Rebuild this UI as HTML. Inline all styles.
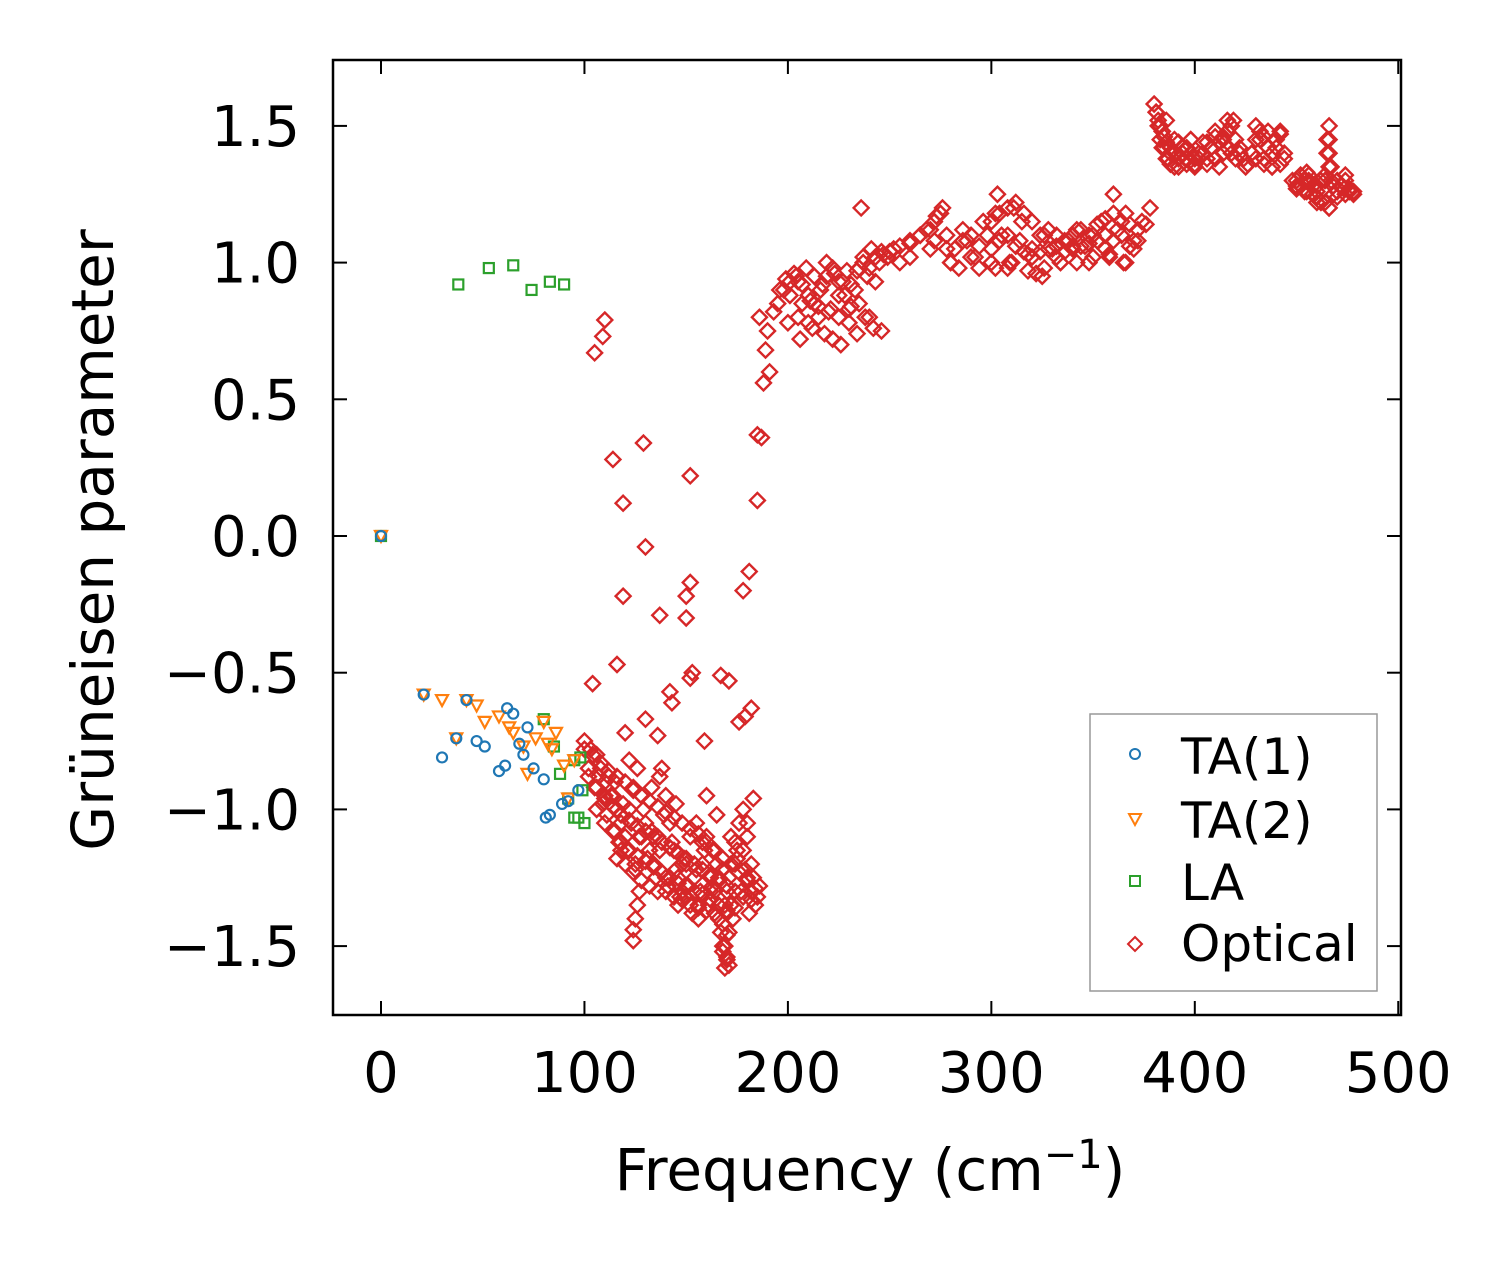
<!DOCTYPE html>
<html><head><meta charset="utf-8"><style>
html,body{margin:0;padding:0;background:#fff;}
svg{display:block;font-family:"DejaVu Sans","Liberation Sans",sans-serif;}
</style></head><body>
<svg id="chart" width="1512" height="1264" viewBox="0 0 1512 1264">
<rect x="0" y="0" width="1512" height="1264" fill="#fff"/>
<g id="marks"></g>
<g id="axes"></g>
<text x="870" y="1190" font-size="58" text-anchor="middle">Frequency (cm<tspan dy="-22" font-size="40">−1</tspan><tspan dy="22">)</tspan></text>
<text transform="translate(113,540) rotate(-90)" font-size="58" text-anchor="middle">Grüneisen parameter</text>
<g>
<rect x="1090" y="714" width="287" height="277" fill="#fff" stroke="#999" stroke-width="1.5"/>
<circle cx="1135" cy="754" r="5" fill="none" stroke="#1f77b4" stroke-width="2"/>
<text x="1181" y="774" font-size="50">TA(1)</text>
<path d="M1129,814 L1141,814 L1135,825 Z" fill="none" stroke="#ff7f0e" stroke-width="2"/>
<text x="1181" y="838" font-size="50">TA(2)</text>
<rect x="1130" y="876" width="10" height="10" fill="none" stroke="#2ca02c" stroke-width="2"/>
<text x="1181" y="900" font-size="50">LA</text>
<path d="M1135,937 L1142,944 L1135,951 L1128,944 Z" fill="none" stroke="#d62728" stroke-width="2"/>
<text x="1181" y="961" font-size="50">Optical</text>
</g>
</svg>
<script>
const xTicks=[0,100,200,300,400,500];
const yTicks=[1.5,1.0,0.5,0.0,-0.5,-1.0,-1.5];
const yTickLabels=["1.5","1.0","0.5","0.0","−0.5","−1.0","−1.5"];
const ta1Freq=[0,21,30,37,42,47,51,58,61,62,65,68,70,72,75,80,81,83,89,92,97];
const ta1Gamma=[0,-0.58,-0.81,-0.74,-0.6,-0.75,-0.77,-0.86,-0.84,-0.63,-0.65,-0.76,-0.8,-0.7,-0.85,-0.89,-1.03,-1.02,-0.98,-0.97,-0.93];
const ta2Freq=[0,21,30,37,42,47,51,58,63,65,70,72,76,80,82,84,86,90,92,95];
const ta2Gamma=[0,-0.58,-0.6,-0.74,-0.6,-0.62,-0.68,-0.66,-0.7,-0.72,-0.77,-0.87,-0.74,-0.68,-0.76,-0.78,-0.72,-0.84,-0.96,-0.82];
const laFreq=[0,38,53,65,74,83,90,80,85,88,92,95,97,98,99,100,95];
const laGamma=[0,0.92,0.98,0.99,0.9,0.93,0.92,-0.67,-0.77,-0.87,-0.96,-1.03,-1.03,-0.81,-0.93,-1.05,-0.82];
const opticalFreq=[110,109,105,114,119,129,130,152,119,137,150,152,150,116,104,153,152,142,143,130,136,167,171,159,176,181,178,182,179,185,187,185,188,189,191,
100,103,106,108,110,112,114,116,118,120,122,124,126,128,130,132,134,136,138,140,142,144,146,148,150,152,154,156,158,160,162,164,166,168,169,170,171,172,174,176,178,180,182,184,183,180,124,124,125,126,127,120,
102,105,107,109,111,113,115,117,119,121,123,125,127,129,131,133,135,137,139,141,143,145,147,149,151,153,155,157,159,161,163,165,167,169,171,173,175,177,179,181,183,185,
110,115,118,122,125,128,133,137,140,145,148,155,158,160,163,165,168,170,172,175,178,182,186,146,150,156,162,166,170,174,180,
186,190,193,196,199,201,203,205,207,209,211,213,215,217,219,221,223,225,227,229,231,233,235,237,239,241,243,245,247,
200,206,212,218,222,226,230,234,238,242,246,
250,255,260,265,270,273,276,280,284,288,292,296,300,302,305,308,311,314,318,322,326,330,334,338,342,346,350,354,358,362,366,370,374,378,
272,278,286,294,303,309,315,320,325,332,340,348,356,360,365,370,236,
380,381,382,383,384,385,386,387,388,390,392,394,396,398,400,402,404,406,408,410,412,414,416,418,420,
422,425,428,430,432,434,436,438,440,442,444,
448,450,452,454,456,458,460,462,464,465,466,467,468,470,472,474,476,478,466,465,460,455];
const opticalGamma=[0.79,0.73,0.67,0.28,0.12,0.34,-0.04,0.22,-0.22,-0.29,-0.22,-0.17,-0.3,-0.47,-0.54,-0.5,-0.52,-0.57,-0.61,-0.67,-0.73,-0.51,-0.53,-0.75,-0.68,-0.13,-0.2,-0.63,-0.66,0.37,0.36,0.13,0.56,0.68,0.6,
-0.75,-0.78,-0.8,-0.85,-0.9,-0.88,-0.95,-1.0,-1.05,-1.1,-1.0,-0.92,-0.85,-0.95,-1.05,-1.15,-1.2,-1.1,-0.85,-0.95,-1.05,-1.15,-1.25,-1.3,-1.2,-1.1,-1.25,-1.35,-1.2,-1.1,-1.25,-1.3,-1.4,-1.5,-1.58,-1.55,-1.45,-1.35,-1.2,-1.05,-1.15,-1.25,-1.3,-1.35,-0.96,-1.1,-1.48,-1.44,-1.4,-1.35,-1.3,-0.72,
-0.85,-0.92,-0.88,-0.98,-1.02,-0.95,-1.08,-1.12,-0.98,-1.15,-1.05,-1.2,-1.1,-1.0,-1.18,-1.08,-1.25,-1.15,-1.02,-1.28,-1.12,-1.22,-1.32,-1.18,-1.28,-1.38,-1.22,-1.3,-1.15,-1.35,-1.28,-1.2,-1.45,-1.35,-1.25,-1.4,-1.15,-1.3,-1.22,-1.38,-1.25,-1.32,
-0.95,-0.9,-1.15,-0.82,-1.22,-1.1,-0.92,-0.88,-1.25,-0.98,-1.2,-1.05,-1.12,-0.95,-1.15,-1.02,-1.22,-1.3,-1.1,-1.18,-1.0,-1.2,-1.28,-1.35,-1.32,-1.4,-1.3,-1.25,-1.38,-1.12,-1.05,
0.8,0.75,0.82,0.9,0.94,0.88,0.96,0.93,0.85,0.98,0.86,0.95,0.84,0.92,1.0,0.83,0.96,0.88,0.93,0.97,0.84,0.9,0.98,1.02,0.95,1.05,0.93,1.0,1.03,
0.78,0.72,0.76,0.74,0.72,0.7,0.78,0.74,0.8,0.76,0.75,
1.04,1.0,1.07,1.1,1.12,1.17,1.2,1.0,0.98,1.08,1.02,1.15,1.05,1.18,1.1,0.98,1.2,1.08,1.03,0.96,1.1,1.05,1.0,1.08,1.12,1.06,1.1,1.15,1.03,1.12,1.18,1.08,1.15,1.2,
1.08,1.05,1.12,0.98,1.25,1.0,1.15,1.05,0.95,1.02,1.06,1.0,1.1,1.25,1.0,1.05,1.2,
1.58,1.55,1.5,1.45,1.48,1.42,1.52,1.38,1.4,1.45,1.35,1.42,1.38,1.45,1.36,1.4,1.44,1.38,1.42,1.48,1.35,1.45,1.52,1.4,1.38,
1.42,1.35,1.4,1.5,1.45,1.38,1.48,1.35,1.42,1.48,1.38,
1.3,1.28,1.32,1.26,1.3,1.25,1.28,1.22,1.3,1.4,1.5,1.35,1.25,1.3,1.28,1.32,1.26,1.25,1.2,1.45,1.22,1.33];
const opticalDense=[
[100,-0.78],[104,-0.8],[108,-0.83],[112,-0.86],[116,-0.88],[120,-0.9],[124,-0.93],[128,-0.95],[132,-0.97],[136,-0.99],[140,-1.01],[144,-1.03],[148,-1.05],[152,-1.07],[156,-1.09],[160,-1.12],[164,-1.15],[168,-1.18],[172,-1.2],[176,-1.23],[180,-1.26],[184,-1.29],
[102,-0.88],[106,-0.92],[110,-0.96],[114,-0.99],[118,-1.02],[122,-1.04],[126,-1.06],[130,-1.08],[134,-1.1],[138,-1.12],[142,-1.14],[146,-1.16],[150,-1.18],[154,-1.2],[158,-1.22],[162,-1.24],[166,-1.26],[170,-1.28],[174,-1.3],[178,-1.32],[182,-1.33],
[106,-1.0],[110,-1.05],[114,-1.08],[118,-1.12],[122,-1.15],[126,-1.17],[130,-1.19],[134,-1.21],[138,-1.23],[142,-1.25],[146,-1.27],[150,-1.28],[154,-1.3],[158,-1.31],[162,-1.33],[166,-1.35],[170,-1.37],[174,-1.36],
[116,-1.18],[120,-1.2],[124,-1.23],[128,-1.26],[132,-1.28],[136,-1.3],[140,-1.3],[144,-1.32],[148,-1.33],[152,-1.35],[156,-1.36],[160,-1.37],[164,-1.38],[168,-1.42],[170,-1.46],[169,-1.5],[170,-1.54],[168,-1.52],[171,-1.57],
[195,0.85],[198,0.9],[201,0.93],[204,0.95],[207,0.92],[210,0.88],[213,0.85],[216,0.9],[219,0.95],[222,0.98],[225,0.93],[228,0.88],[231,0.92],[234,0.97],[237,1.0],[240,0.98],[243,1.02],[246,1.04],[249,1.02],[252,1.05],
[205,0.8],[210,0.78],[215,0.8],[220,0.82],[225,0.8],[230,0.83],[235,0.85],[240,0.8],
[255,1.06],[260,1.08],[265,1.1],[268,1.12],[272,1.15],[275,1.18],[278,1.1],[282,1.05],[286,1.08],[290,1.1],[294,1.06],[298,1.1],[260,1.02],[270,1.05],[280,1.0],[290,1.02],[300,1.0],
[300,1.15],[304,1.18],[308,1.2],[312,1.22],[316,1.18],[320,1.15],[324,1.1],[328,1.12],[332,1.1],[336,1.08],[340,1.1],[344,1.12],[348,1.1],[352,1.14],[356,1.16],[360,1.18],[364,1.15],[368,1.14],[372,1.12],[376,1.14],
[300,1.05],[304,1.08],[308,1.1],[312,1.06],[316,1.04],[320,1.02],[324,1.04],[328,1.05],[332,1.06],[336,1.04],[340,1.05],[344,1.06],[348,1.07],[352,1.08],[356,1.05],[360,1.08],[364,1.1],[368,1.06],[372,1.08],
[302,0.98],[310,1.0],[318,0.97],[326,0.98],[334,1.0],[342,1.0],[350,1.02],[358,1.02],[366,1.0],
[381,1.55],[382,1.52],[383,1.5],[384,1.48],[385,1.46],[386,1.44],[388,1.42],[390,1.4],[392,1.38],[394,1.4],[396,1.42],[398,1.4],[384,1.42],[386,1.38],[388,1.36],[390,1.35],[392,1.44],[396,1.36],[398,1.45],[400,1.38],
[400,1.35],[402,1.38],[404,1.4],[406,1.36],[408,1.42],[410,1.38],[412,1.44],[414,1.46],[416,1.48],[418,1.5],[419,1.52],[406,1.44],[410,1.46],[414,1.4],[416,1.42],[420,1.45],
[422,1.4],[424,1.38],[426,1.36],[428,1.4],[430,1.45],[432,1.48],[434,1.46],[436,1.42],[438,1.4],[440,1.45],[442,1.47],[444,1.4],[430,1.38],[434,1.36],[438,1.35],[442,1.36],
[450,1.3],[452,1.28],[454,1.3],[456,1.32],[458,1.28],[460,1.26],[462,1.3],[464,1.32],[466,1.35],[466,1.4],[466,1.45],[467,1.3],[468,1.28],[470,1.26],[472,1.28],[474,1.3],[476,1.27],[478,1.26],[455,1.26],[460,1.24],[464,1.22],[466,1.2],[470,1.24],[474,1.25],[450,1.27],[456,1.29]];
const NS="http://www.w3.org/2000/svg";
const X0=333,X1=1401,Y0=60,Y1=1015;
function xs(v){return 381+v*2.0345;}
function ys(v){return 536-v*273.4;}
const marks=document.getElementById('marks');
const axes=document.getElementById('axes');
function mk(tag,attrs,parent){const e=document.createElementNS(NS,tag);for(const k in attrs)e.setAttribute(k,attrs[k]);parent.appendChild(e);return e;}
function drawSeries(fx,fy,shape,color,name){
  const g=mk('g',{},marks);
  
  
  for(let i=0;i<fx.length;i++){
    const cx=xs(fx[i]),cy=ys(fy[i]);let e;
    if(shape==='circle')e=mk('circle',{cx:cx,cy:cy,r:5,fill:'none',stroke:color,'stroke-width':2.2},g);
    else if(shape==='tri')e=mk('path',{d:`M${cx-6},${cy-5} L${cx+6},${cy-5} L${cx},${cy+6} Z`,fill:'none',stroke:color,'stroke-width':2.2},g);
    else if(shape==='sq')e=mk('rect',{x:cx-5,y:cy-5,width:10,height:10,fill:'none',stroke:color,'stroke-width':2.2},g);
    else e=mk('path',{d:`M${cx},${cy-7.5} L${cx+7.5},${cy} L${cx},${cy+7.5} L${cx-7.5},${cy} Z`,fill:'none',stroke:color,'stroke-width':2.4},g);
    
    
  }
}
drawSeries(opticalFreq,opticalGamma,'dia','#d62728','optical');
drawSeries(opticalDense.map(p=>p[0]),opticalDense.map(p=>p[1]),'dia','#d62728','optical-dense');
drawSeries(laFreq,laGamma,'sq','#2ca02c','la');
drawSeries(ta2Freq,ta2Gamma,'tri','#ff7f0e','ta2');
drawSeries(ta1Freq,ta1Gamma,'circle','#1f77b4','ta1');
const frame=mk('rect',{x:X0,y:Y0,width:X1-X0,height:Y1-Y0,fill:'none',stroke:'#000','stroke-width':2.5},axes);


xTicks.forEach(t=>{
  const x=xs(t);
  const a=mk('line',{x1:x,y1:Y1,x2:x,y2:Y1-14,stroke:'#000','stroke-width':2},axes);
  
  const b=mk('line',{x1:x,y1:Y0,x2:x,y2:Y0+14,stroke:'#000','stroke-width':2},axes);
  
  const l=mk('text',{x:x,y:1092,'font-size':56,'text-anchor':'middle'},axes);
  l.textContent=String(t);
  
});
yTicks.forEach((t,i)=>{
  const y=ys(t);
  const a=mk('line',{x1:X0,y1:y,x2:X0+14,y2:y,stroke:'#000','stroke-width':2},axes);
  
  const b=mk('line',{x1:X1,y1:y,x2:X1-14,y2:y,stroke:'#000','stroke-width':2},axes);
  
  const l=mk('text',{x:300,y:y+20,'font-size':56,'text-anchor':'end'},axes);
  l.textContent=yTickLabels[i];
  
});
</script>
</body></html>
